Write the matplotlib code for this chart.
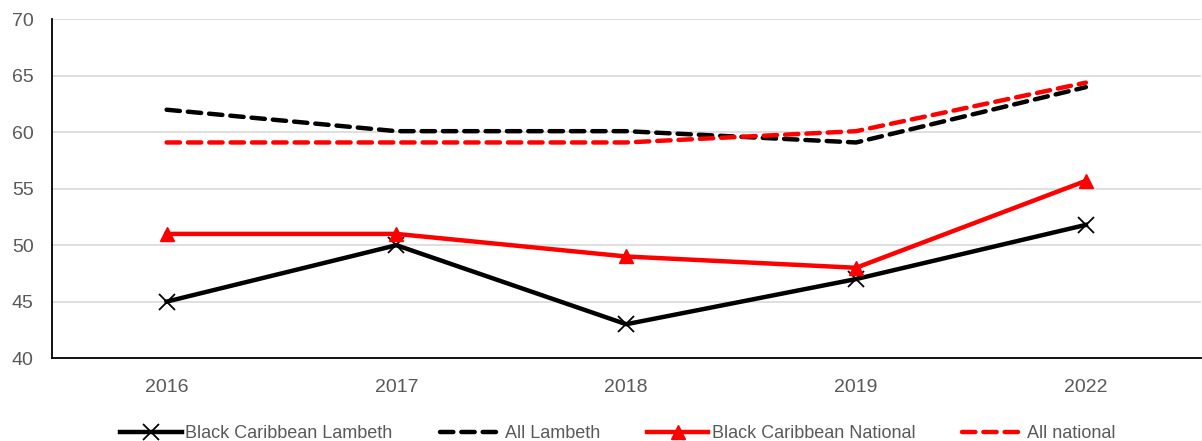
import matplotlib.pyplot as plt

years = ['2016', '2017', '2018', '2019', '2022']
bc_lambeth = [45, 50, 43, 47, 51.8]
all_lambeth = [62, 60.1, 60.1, 59.1, 64]
bc_national = [51, 51, 49, 48, 55.7]
all_national = [59.1, 59.1, 59.1, 60.1, 64.4]

GREY = '#595959'


def main():
    plt.rcParams['font.family'] = ['Liberation Sans', 'DejaVu Sans']
    fig, ax = plt.subplots(figsize=(12.02, 4.41), dpi=100)
    fig.subplots_adjust(left=0.043, right=0.999, top=0.956, bottom=0.188)

    x = list(range(len(years)))
    ax.plot(x, bc_lambeth, color='black', lw=3.2, marker='x', ms=11,
            mew=1.3, label='Black Caribbean Lambeth')
    ax.plot(x, all_lambeth, color='black', lw=3.2, dashes=(3, 1.8),
            dash_capstyle='round', label='All Lambeth')
    ax.plot(x, bc_national, color='#ff0000', lw=3.2, marker='^', ms=10,
            label='Black Caribbean National')
    ax.plot(x, all_national, color='#ff0000', lw=3.2, dashes=(3, 1.8),
            dash_capstyle='round', label='All national')

    ax.set_xlim(-0.5, len(years) - 0.5)
    ax.set_ylim(40, 70)
    ax.set_yticks(range(40, 71, 5))
    ax.set_xticks(x)
    ax.set_xticklabels(years)
    ax.grid(axis='y', color='#d9d9d9', lw=1.2)
    ax.set_axisbelow(True)
    ax.tick_params(length=0, labelsize=14, colors=GREY)
    ax.tick_params(axis='y', pad=13)
    ax.tick_params(axis='x', pad=15)
    for side in ['top', 'right']:
        ax.spines[side].set_visible(False)
    for side in ['left', 'bottom']:
        ax.spines[side].set_color('black')
        ax.spines[side].set_linewidth(1.3)

    leg = ax.legend(loc='upper center', bbox_to_anchor=(0.493, -0.15), ncol=4,
                    frameon=False, fontsize=13, handlelength=3.4,
                    handletextpad=0.2, columnspacing=2.6)
    for t in leg.get_texts():
        t.set_color(GREY)

    fig.savefig('out.png')


if __name__ == '__main__':
    main()
